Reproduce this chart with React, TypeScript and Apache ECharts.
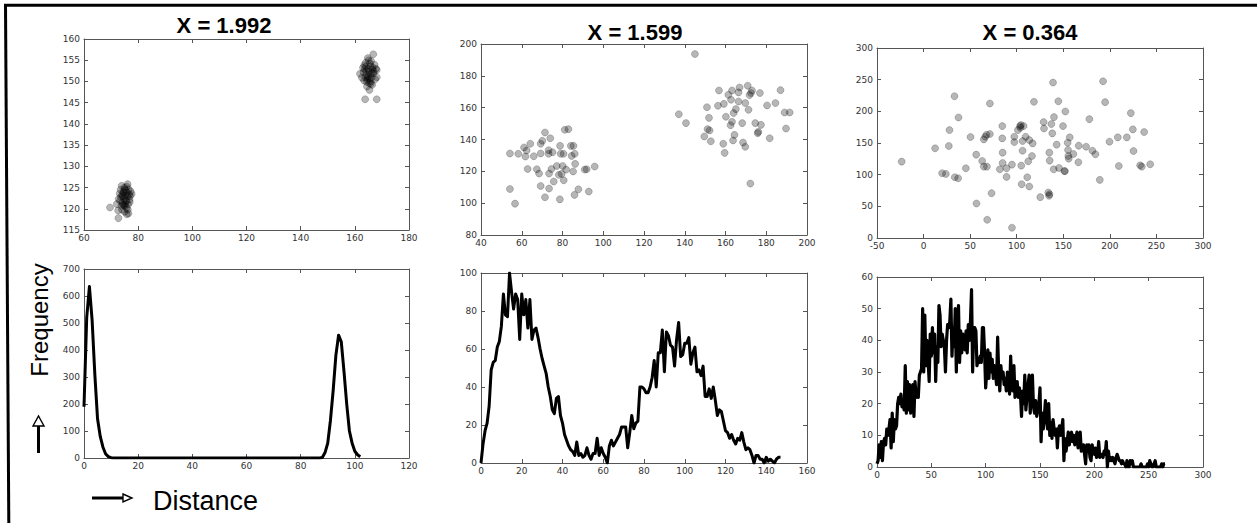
import React, { useEffect, useRef } from "react";
import * as echarts from "echarts";

// ---------- DATA ----------
const titles = ["X = 1.992", "X = 1.599", "X = 0.364"];

// Top-left scatter (two tight clusters)
const tlClusterA: number[][] = [
  [69.6,120.3],[72.7,117.8],[72.1,121.1],[73.9,125.4],[76.1,125.8],[76.4,118.9],[77.6,123.5],[75.8,125.2],[74.5,124.0],[75.2,123.1],
  [74.8,122.4],[75.6,121.8],[76.0,122.9],[74.2,121.5],[75.1,120.6],[73.6,122.8],[76.8,122.2],[77.2,124.1],[74.9,125.0],[75.4,124.3],
  [73.2,123.6],[74.0,119.8],[75.7,120.2],[76.3,121.0],[75.0,119.3],[73.8,120.7],[77.0,123.0],[74.6,123.7],[75.9,123.8],[74.3,122.9],
  [76.5,124.6],[72.8,122.3],[75.3,121.2],[76.2,119.8],[73.5,124.5],[75.5,122.0],[74.7,120.9],[76.7,123.4],[75.0,124.6],[74.1,123.3],
  [72.6,119.6],[73.3,121.9],[76.9,121.6],[75.8,118.7],[74.4,121.0]
];
const tlClusterB: number[][] = [
  [166.8,156.4],[164.8,155.5],[163.8,145.8],[168.1,145.8],[165.4,148.0],[161.9,151.8],[168.1,151.0],[168.1,152.7],[163.5,153.8],[164.2,152.5],
  [165.0,151.2],[165.8,153.6],[166.5,152.8],[164.6,150.4],[165.3,149.6],[163.9,151.0],[166.2,150.9],[167.3,153.9],[164.0,154.4],[165.6,154.2],
  [166.9,151.9],[163.2,152.2],[162.6,150.9],[164.9,153.0],[165.9,150.0],[166.4,149.2],[167.0,152.3],[164.4,149.9],[163.7,152.9],[165.2,152.4],
  [166.0,154.8],[164.3,151.6],[167.5,150.5],[165.7,151.7],[163.0,153.2],[164.7,150.8],[166.6,153.3],[165.1,155.0],[167.8,153.0],[164.1,153.5],
  [165.5,150.6],[166.3,152.0],[163.4,150.2],[165.9,149.4],[164.5,148.8]
];

// Top-middle scatter
const tmPoints: number[][] = [
  [54.2,108.9],[56.7,99.7],[54.2,131.2],[58.3,131.0],[61.1,135.0],[61.8,129.3],[62.4,133.1],[62.9,121.5],[64.2,137.3],[65.9,129.5],
  [67.4,121.3],[68.5,118.6],[69.3,131.2],[69.3,137.3],[70.1,139.2],[69.3,110.8],[71.4,144.4],[71.4,103.7],[73.2,133.3],[73.2,131.0],
  [73.4,118.6],[73.4,109.2],[74.0,140.8],[74.6,121.5],[75.1,132.0],[75.7,113.6],[77.2,123.4],[78.2,117.8],[78.7,102.4],[78.8,136.0],
  [79.1,131.0],[79.6,118.4],[80.1,123.4],[80.5,131.0],[80.6,114.4],[81.1,146.1],[81.8,121.1],[82.9,146.5],[84.1,136.0],[84.5,129.7],
  [85.4,136.0],[85.2,119.9],[85.9,105.2],[86.0,131.0],[86.2,124.7],[87.8,108.7],[90.9,121.1],[91.9,121.3],[92.9,107.3],[95.8,123.0],
  [137.1,155.9],[140.6,150.3],[145.0,193.7],[149.6,141.9],[150.9,160.3],[151.2,146.5],[151.9,153.6],[152.2,145.7],[152.8,138.9],[156.8,170.8],
  [156.3,161.2],[158.9,137.3],[159.2,162.4],[159.6,131.6],[160.2,154.3],[161.4,168.1],[162.5,149.0],[162.7,165.0],[163.2,170.8],[163.2,151.1],
  [163.7,139.4],[164.0,156.6],[164.4,142.9],[165.1,159.1],[166.4,169.6],[166.4,163.9],[166.9,172.7],[168.2,150.3],[168.6,138.1],[169.7,162.9],
  [169.7,135.4],[170.9,173.8],[171.3,158.7],[171.8,167.9],[172.2,112.3],[172.5,169.2],[173.0,170.8],[174.6,150.3],[175.8,144.0],[176.1,144.8],
  [176.9,169.2],[177.4,149.2],[180.4,161.4],[181.7,140.8],[184.5,162.9],[187.0,171.0],[189.0,157.0],[189.7,146.9],[191.5,157.0]
];

// Top-right scatter
const trPoints: number[][] = [
  [-23.5,120.6],[12.4,141.6],[19.9,102.3],[23.9,101.2],[27.1,145.3],[27.8,170.4],[33.2,223.9],[33.5,96.0],[37.1,94.4],[37.5,190.4],
  [45.4,110.1],[50.4,159.4],[56.5,131.6],[56.8,54.5],[62.9,121.7],[64.7,155.7],[64.7,112.7],[66.2,159.9],[67.6,163.1],[68.0,112.7],
  [68.3,28.8],[71.2,212.4],[71.2,164.1],[73.0,70.8],[81.9,108.5],[84.5,176.7],[84.5,157.3],[84.9,134.8],[84.9,118.5],[89.1,96.5],
  [89.1,110.1],[94.9,115.9],[94.9,16.3],[97.4,159.9],[97.4,151.5],[101.3,170.4],[103.5,176.7],[104.5,178.3],[104.9,114.3],[105.3,85.0],
  [106.3,137.9],[106.3,153.1],[107.4,176.7],[109.6,159.9],[111.3,96.0],[112.4,121.1],[113.5,154.7],[113.5,81.3],[116.4,129.5],[117.1,149.4],
  [118.5,215.0],[125.3,64.5],[128.9,183.0],[129.3,173.0],[133.9,71.8],[134.7,66.6],[135.0,134.8],[135.4,122.2],[137.2,179.9],[138.2,165.2],
  [139.0,245.4],[139.7,108.5],[140.0,190.9],[142.9,147.4],[144.7,216.0],[145.4,110.6],[149.7,176.7],[151.1,105.9],[152.2,199.8],[154.7,150.5],
  [155.1,139.0],[155.8,125.3],[155.4,129.5],[156.9,158.9],[160.8,132.7],[166.2,119.6],[166.6,145.8],[174.5,144.2],[178.0,187.7],[181.3,137.9],
  [184.5,132.1],[189.2,91.8],[192.7,247.5],[194.9,214.5],[199.6,152.1],[208.5,158.9],[209.6,113.8],[218.2,158.9],[222.5,197.2],[224.7,171.5],
  [225.4,137.4],[232.5,114.8],[234.3,112.7],[236.8,167.3],[243.3,116.4],[151.8,105.5],[104.0,174.0],[135.2,69.0]
];

// Bottom-left frequency (distance bins 0..102)
const blFreq: number[] = [
  190,520,635,510,310,145,80,40,15,5,1,0,0,0,0,0,0,0,0,0,
  0,0,0,0,0,0,0,0,0,0,0,0,0,0,0,0,0,0,0,0,
  0,0,0,0,0,0,0,0,0,0,0,0,0,0,0,0,0,0,0,0,
  0,0,0,0,0,0,0,0,0,0,0,0,0,0,0,0,0,0,0,0,
  0,0,0,0,0,0,0,0,2,20,55,140,250,380,455,430,320,200,100,55,
  25,12,5
];

// Bottom-middle frequency (bins 0..147)
const bmFreq: number[] = [
  0,10,17,21,30,49,53,54,61,64,72,89,78,77,100,90,81,89,86,65,
  89,78,86,71,86,65,70,71,66,60,55,51,47,40,35,28,26,34,35,25,
  21,15,12,9,7,6,4,11,4,5,3,4,8,4,2,5,5,13,4,8,
  5,3,0,9,12,9,11,13,15,19,19,19,8,16,25,18,21,22,40,40,
  39,37,37,40,45,54,40,58,58,70,48,69,67,62,61,51,65,74,56,57,
  63,63,66,52,58,61,48,49,46,51,35,35,39,34,40,33,25,28,27,22,
  17,16,13,15,12,10,13,12,16,11,7,8,7,4,0,4,4,2,2,0,
  3,1,2,1,0,2,3,3
];

// Bottom-right frequency (bins 0..265)
const brFreq: number[] = [
  1,2,7,3,8,2,8,9,7,12,
  10,12,15,6,17,8,15,12,13,20,
  22,20,23,19,20,18,32,17,27,18,
  26,17,25,26,16,27,22,24,22,29,
  30,31,50,30,48,32,40,34,27,42,
  35,44,36,42,27,38,33,51,48,38,
  42,40,38,30,40,45,44,46,53,35,
  44,38,50,30,47,51,33,43,36,42,
  40,37,43,36,45,40,46,56,30,44,
  44,43,32,34,33,35,33,44,44,36,
  25,30,37,28,36,30,34,28,32,30,
  26,41,30,24,32,28,30,26,28,24,
  30,27,23,35,26,24,32,22,24,27,
  22,25,23,16,24,20,29,18,22,26,
  29,17,24,29,19,17,21,16,18,20,
  25,8,17,12,16,21,15,12,20,10,
  14,9,15,12,10,12,6,12,13,10,
  12,15,2,9,5,8,11,7,10,11,
  8,10,7,9,11,6,8,11,5,6,
  7,4,1,7,5,7,3,2,7,5,
  4,6,3,4,8,3,4,4,3,5,
  4,8,0,5,2,3,2,3,2,1,
  3,4,3,2,2,1,2,1,1,0,
  2,0,0,2,1,2,0,0,0,0,
  0,0,0,1,0,0,0,0,0,1,
  0,2,1,0,0,1,2,0,0,0,
  0,0,1,0,1,1
];

// Axis ranges: [xmin, xmax, xstep, ymin, ymax, ystep]
const axisRanges: number[][] = [
  [60, 180, 20, 115, 160, 5],
  [40, 200, 20, 80, 200, 20],
  [-50, 300, 50, 0, 300, 50],
  [0, 120, 20, 0, 700, 100],
  [0, 160, 20, 0, 100, 20],
  [0, 300, 50, 0, 60, 10],
];

// ---------- LAYOUT ----------
const gridBoxes = [
  { left: 84, top: 39, width: 325, height: 191 },
  { left: 481, top: 44, width: 326, height: 191 },
  { left: 877, top: 48, width: 326, height: 190 },
  { left: 84, top: 269, width: 325, height: 189 },
  { left: 481, top: 273, width: 326, height: 190 },
  { left: 877, top: 277, width: 326, height: 190 },
];
const lineWidths = [3, 3, 3.2];

const AXIS_COLOR = "#555";
const LABEL_FONT = "DejaVu Sans";

function buildOption() {
  const grid: any[] = gridBoxes.map((g) => ({ ...g, containLabel: false, show: false }));
  const xAxis: any[] = [];
  const yAxis: any[] = [];
  axisRanges.forEach((r, i) => {
    const [xmin, xmax, xs, ymin, ymax, ys] = r;
    const common = {
      type: "value",
      gridIndex: i,
      splitLine: { show: false },
      axisLine: { show: true, onZero: false, lineStyle: { color: AXIS_COLOR, width: 1 } },
      axisTick: { show: true, inside: true, length: 4, lineStyle: { color: AXIS_COLOR } },
    };
    xAxis.push({
      ...common, position: "bottom", min: xmin, max: xmax, interval: xs,
      axisLabel: { show: true, margin: 3, color: "#333", fontSize: 9, fontFamily: LABEL_FONT },
    });
    xAxis.push({
      ...common, position: "top", min: xmin, max: xmax, interval: xs,
      axisLabel: { show: false },
    });
    yAxis.push({
      ...common, position: "left", min: ymin, max: ymax, interval: ys,
      axisLabel: { show: true, margin: 4, color: "#333", fontSize: 9, fontFamily: LABEL_FONT },
    });
    yAxis.push({
      ...common, position: "right", min: ymin, max: ymax, interval: ys,
      axisLabel: { show: false },
    });
  });

  const scatterStyle = {
    color: "rgba(0,0,0,0.36)",
    borderColor: "rgba(0,0,0,0.42)",
    borderWidth: 0.6,
  };
  const scatter = (idx: number, data: number[][]) => ({
    type: "scatter",
    xAxisIndex: idx * 2,
    yAxisIndex: idx * 2,
    symbolSize: 7,
    data,
    itemStyle: scatterStyle,
    silent: true,
  });
  const line = (idx: number, vals: number[], w: number) => ({
    type: "line",
    xAxisIndex: idx * 2,
    yAxisIndex: idx * 2,
    data: vals.map((v, k) => [k, v]),
    showSymbol: false,
    symbol: "none",
    lineStyle: { color: "#000", width: w, join: "round" },
    silent: true,
  });

  const series = [
    scatter(0, tlClusterA),
    scatter(0, tlClusterB),
    scatter(1, tmPoints),
    scatter(2, trPoints),
    line(3, blFreq, lineWidths[0]),
    line(4, bmFreq, lineWidths[1]),
    line(5, brFreq, lineWidths[2]),
  ];

  const titleFont = "bold 22px 'Liberation Sans', Arial, sans-serif";
  const titlePos = [
    [224, 25],
    [635, 32],
    [1030, 32],
  ];
  const graphic: any[] = [
    // outer frame
    { type: "line", shape: { x1: 4, y1: 5.3, x2: 1257, y2: 5.3 }, style: { stroke: "#000", lineWidth: 3 } },
    { type: "line", shape: { x1: 5.5, y1: 4, x2: 8.8, y2: 523 }, style: { stroke: "#000", lineWidth: 3 } },
    ...titles.map((t, i) => ({
      type: "text",
      x: titlePos[i][0],
      y: titlePos[i][1],
      style: { text: t, font: titleFont, fill: "#000", textAlign: "center", textVerticalAlign: "middle" },
    })),
    // Frequency label
    {
      type: "text",
      x: 39,
      y: 320,
      rotation: Math.PI / 2,
      style: { text: "Frequency", font: "24px 'Liberation Sans', Arial, sans-serif", fill: "#000", textAlign: "center", textVerticalAlign: "middle" },
    },
    { type: "line", shape: { x1: 38.5, y1: 453, x2: 38.5, y2: 426 }, style: { stroke: "#000", lineWidth: 3 } },
    { type: "polygon", shape: { points: [[33, 426], [38.5, 416], [44, 426]] }, style: { fill: "#fff", stroke: "#000", lineWidth: 1.4 } },
    // Distance label
    { type: "line", shape: { x1: 92, y1: 498, x2: 124, y2: 498 }, style: { stroke: "#000", lineWidth: 3 } },
    { type: "polygon", shape: { points: [[123, 494], [132, 498], [123, 502]] }, style: { fill: "#fff", stroke: "#000", lineWidth: 1.4 } },
    {
      type: "text",
      x: 153,
      y: 501,
      style: { text: "Distance", font: "27px 'Liberation Sans', Arial, sans-serif", fill: "#000", textAlign: "left", textVerticalAlign: "middle" },
    },
  ];

  return {
    animation: false,
    backgroundColor: "#fff",
    grid,
    xAxis,
    yAxis,
    series,
    graphic,
  };
}

export default function App() {
  const ref = useRef<HTMLDivElement>(null);
  useEffect(() => {
    if (!ref.current) return;
    const chart = echarts.init(ref.current, undefined, { renderer: "svg" });
    chart.setOption(buildOption() as any);
    return () => chart.dispose();
  }, []);
  return (
    <div
      ref={ref}
      style={{ position: "fixed", left: 0, top: 0, width: 1257, height: 523, background: "#fff" }}
    />
  );
}
